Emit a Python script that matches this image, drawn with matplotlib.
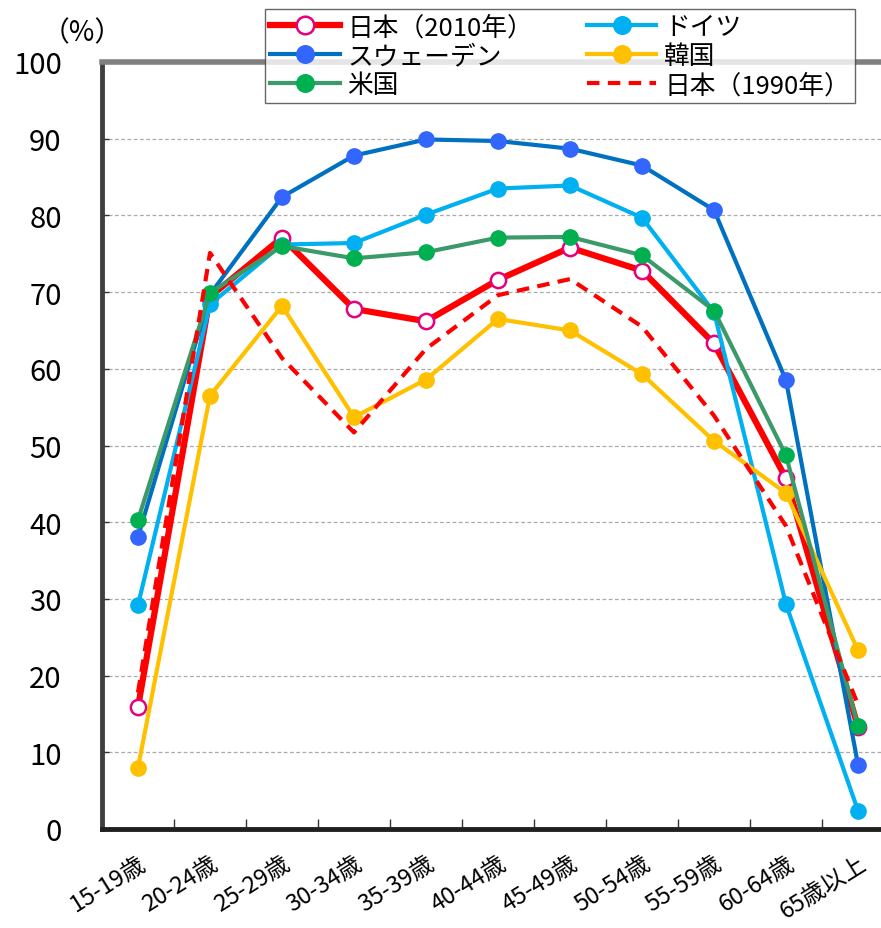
import matplotlib
matplotlib.use("Agg")
import matplotlib.pyplot as plt
import matplotlib.transforms as mtransforms

plt.rcParams['font.family'] = ['Noto Sans CJK JP', 'DejaVu Sans']

categories = ["15-19歳", "20-24歳", "25-29歳", "30-34歳", "35-39歳", "40-44歳",
              "45-49歳", "50-54歳", "55-59歳", "60-64歳", "65歳以上"]
japan_2010 = [15.9, 69.4, 77.1, 67.8, 66.2, 71.6, 75.8, 72.8, 63.3, 45.7, 13.3]
sweden = [38.1, 69.7, 82.4, 87.8, 89.9, 89.7, 88.7, 86.5, 80.7, 58.5, 8.4]
usa = [40.3, 69.9, 76.0, 74.4, 75.2, 77.1, 77.2, 74.8, 67.6, 48.7, 13.4]
germany = [29.2, 68.4, 76.2, 76.4, 80.1, 83.5, 83.9, 79.7, 67.4, 29.3, 2.4]
korea = [8.0, 56.5, 68.2, 53.7, 58.6, 66.5, 65.0, 59.3, 50.6, 43.8, 23.3]
japan_1990 = [17.8, 75.1, 61.4, 51.7, 62.6, 69.6, 71.7, 65.5, 53.9, 39.5, 16.2]
yticks = [0, 10, 20, 30, 40, 50, 60, 70, 80, 90, 100]

fig = plt.figure(figsize=(8.81, 9.29), dpi=100)
# axes spans beyond right edge like the reference
ax = fig.add_axes([102/881, 1 - 830/929, (894-102)/881, (830-63)/929])

x = list(range(len(categories)))
ms = 11
h1, = ax.plot(x, japan_2010, color='#FF0000', lw=4.5, marker='o', ms=ms,
              mfc='white', mec='#E6007E', mew=1.8, label='日本（2010年）', zorder=3)
h2, = ax.plot(x, sweden, color='#0070C0', lw=3, marker='o', ms=ms,
              mfc='#3366FF', mec='#3366FF', label='スウェーデン', zorder=3)
h4, = ax.plot(x, germany, color='#00B0F0', lw=3, marker='o', ms=ms,
              mfc='#00B0F0', mec='#00B0F0', label='ドイツ', zorder=3)
h5, = ax.plot(x, korea, color='#FFC000', lw=3, marker='o', ms=ms,
              mfc='#FFC000', mec='#FFC000', label='韓国', zorder=3)
h3, = ax.plot(x, usa, color='#3C9A6A', lw=3, marker='o', ms=ms,
              mfc='#00B050', mec='#00B050', label='米国', zorder=4)
h6, = ax.plot(x, japan_1990, color='#FF0000', lw=3, ls=(0, (3, 2)),
              label='日本（1990年）', zorder=5)

ax.set_xlim(-0.5, len(categories) - 0.5)
ax.set_ylim(0, 100)
ax.set_yticks(yticks)
ax.set_yticklabels([str(v) for v in yticks], fontsize=21)
ax.set_xticks([i + 0.5 for i in range(len(categories) - 1)])
ax.set_xticklabels([])
ax.set_xticks(x, minor=True)
ax.set_xticklabels(categories, minor=True, rotation=32, ha='right', va='top',
                   rotation_mode='anchor', fontsize=17)
offset = mtransforms.ScaledTranslation(-9/100, 0, fig.dpi_scale_trans)
for lab in ax.get_xticklabels(minor=True):
    lab.set_transform(lab.get_transform() + offset)
ax.tick_params(axis='x', which='minor', length=0, pad=16)
ax.tick_params(axis='x', which='major', direction='in', length=7, width=1, color='#333333')
ax.tick_params(axis='y', direction='in', length=5, width=1, color='#333333', pad=29)

for t in yticks[1:-1]:
    ax.axhline(t, color='#AAAAAA', lw=0.9, ls=(0, (3, 2)), zorder=1)

ax.spines['right'].set_visible(False)
ax.spines['top'].set_color('#808080')
ax.spines['top'].set_linewidth(4)
ax.spines['left'].set_color('#404040')
ax.spines['left'].set_linewidth(3.5)
ax.spines['bottom'].set_color('#202020')
ax.spines['bottom'].set_linewidth(3.5)

fig.text(82/881, 1 - 33/929, '（%）', fontsize=20, ha='center', va='center')

leg = fig.legend(handles=[h1, h2, h3, h4, h5, h6], ncol=2,
                 loc='upper left', bbox_to_anchor=(265/881, 1 - 10/929),
                 fontsize=18.5, frameon=True, fancybox=False, edgecolor='#404040',
                 handlelength=2.7, columnspacing=2.1, labelspacing=0.12,
                 borderpad=0.2, handletextpad=0.3, borderaxespad=0, markerscale=1.15)
leg.get_frame().set_linewidth(1.0)

fig.savefig('out.png', dpi=100)
